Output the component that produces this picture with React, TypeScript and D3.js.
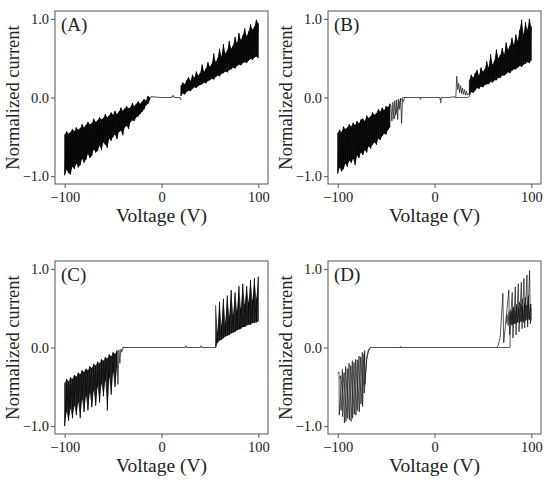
import React, { useEffect, useRef } from "react";
import * as d3 from "d3";

const panelLabels = ["(A)", "(B)", "(C)", "(D)"];
const xTicks = [-100, 0, 100];
const yTicks = [-1, 0, 1];
const xTitle = "Voltage (V)";
const yTitle = "Normalized current";

// ---- panel A ----
const aNegV = [-100, -98, -96, -94, -92, -90, -88, -86, -84, -82, -80, -78, -76, -74, -72, -70, -68, -66, -64, -62, -60, -58, -56, -54, -52, -50, -48, -46, -44, -42, -40, -38, -36, -34, -32, -30, -28, -26, -24, -22, -20, -18, -16, -14, -12];
const aNegHi = [-0.47, -0.43, -0.46, -0.44, -0.4, -0.43, -0.38, -0.41, -0.39, -0.34, -0.38, -0.35, -0.31, -0.34, -0.33, -0.27, -0.31, -0.29, -0.25, -0.28, -0.26, -0.21, -0.25, -0.23, -0.19, -0.22, -0.17, -0.21, -0.18, -0.13, -0.17, -0.14, -0.11, -0.14, -0.12, -0.07, -0.11, -0.08, -0.05, -0.08, -0.05, -0.02, -0.04, 0.02, 0.0];
const aNegLo = [-0.99, -0.92, -0.96, -0.98, -0.88, -0.91, -0.84, -0.89, -0.86, -0.78, -0.83, -0.79, -0.72, -0.77, -0.74, -0.66, -0.7, -0.68, -0.61, -0.67, -0.57, -0.6, -0.64, -0.52, -0.55, -0.5, -0.47, -0.53, -0.44, -0.42, -0.48, -0.38, -0.36, -0.4, -0.31, -0.29, -0.3, -0.25, -0.24, -0.21, -0.18, -0.15, -0.1, -0.08, -0.03];
const aFlatV = [-12, -10, 0, 10, 11, 12, 13, 14, 19, 20];
const aFlatI = [0, 0.01, 0, 0, 0.01, 0.025, 0.005, 0, 0, -0.03];
const aPosV = [20, 22, 24, 26, 28, 30, 32, 34, 36, 38, 40, 42, 44, 46, 48, 50, 52, 54, 56, 58, 60, 62, 64, 66, 68, 70, 72, 74, 76, 78, 80, 82, 84, 86, 88, 90, 92, 94, 96, 98, 100];
const aPosHi = [0.15, 0.19, 0.17, 0.22, 0.26, 0.21, 0.29, 0.25, 0.33, 0.28, 0.31, 0.42, 0.33, 0.37, 0.45, 0.39, 0.43, 0.56, 0.45, 0.5, 0.62, 0.52, 0.68, 0.56, 0.6, 0.72, 0.62, 0.66, 0.77, 0.69, 0.82, 0.73, 0.79, 0.88, 0.78, 0.84, 0.93, 0.86, 0.9, 0.99, 0.94];
const aPosLo = [0.02, 0.05, 0.04, 0.07, 0.09, 0.08, 0.11, 0.13, 0.12, 0.15, 0.16, 0.17, 0.19, 0.18, 0.21, 0.22, 0.24, 0.23, 0.26, 0.28, 0.27, 0.3, 0.31, 0.33, 0.32, 0.35, 0.36, 0.38, 0.37, 0.4, 0.42, 0.41, 0.44, 0.45, 0.44, 0.47, 0.49, 0.48, 0.51, 0.52, 0.5];

// ---- panel B ----
const bNegV = [-100, -98, -96, -94, -92, -90, -88, -86, -84, -82, -80, -78, -76, -74, -72, -70, -68, -66, -64, -62, -60, -58, -56, -54, -52, -50, -48, -46];
const bNegHi = [-0.45, -0.41, -0.44, -0.37, -0.4, -0.38, -0.34, -0.37, -0.32, -0.35, -0.3, -0.33, -0.28, -0.27, -0.3, -0.23, -0.26, -0.24, -0.19, -0.22, -0.2, -0.15, -0.18, -0.13, -0.16, -0.11, -0.12, -0.08];
const bNegLo = [-0.97, -0.89, -0.94, -0.91, -0.84, -0.88, -0.8, -0.83, -0.78, -0.86, -0.74, -0.77, -0.7, -0.73, -0.67, -0.7, -0.62, -0.65, -0.6, -0.57, -0.6, -0.52, -0.54, -0.49, -0.46, -0.47, -0.41, -0.38];
const bKneeNegV = [-46, -45, -44, -43, -42, -41, -40, -39, -38, -37, -36, -35, -34, -33, -32, -31, -30];
const bKneeNegI = [-0.08, -0.1, -0.3, -0.06, -0.27, -0.04, -0.22, -0.03, -0.28, -0.02, -0.15, -0.01, -0.33, -0.02, -0.05, 0.0, 0.0];
const bKneeNeg2V = [-42, -40, -38, -36, -34, -33, -32];
const bKneeNeg2I = [-0.28, -0.2, -0.12, -0.06, -0.02, 0, 0];
const bFlatV = [-32, -20, -15, -14.5, -14, 0, 5, 6, 6.5, 7, 15, 20, 22];
const bFlatI = [0, 0, 0, -0.02, 0, 0, 0, -0.02, -0.07, 0, 0, 0.01, 0.0];
const bKneePosV = [22, 23, 24, 25, 26, 27, 28, 29, 30, 31, 32, 33, 34, 35, 36];
const bKneePosI = [0.0, 0.27, 0.1, 0.18, 0.06, 0.15, 0.05, 0.12, 0.04, 0.1, 0.03, 0.08, 0.03, 0.05, 0.03];
const bKneePos2V = [22, 30, 34, 36, 37, 38];
const bKneePos2I = [0, 0, 0, 0.01, 0.05, 0.1];
const bPosV = [36, 38, 40, 42, 44, 46, 48, 50, 52, 54, 56, 58, 60, 62, 64, 66, 68, 70, 72, 74, 76, 78, 80, 82, 84, 86, 88, 90, 92, 94, 96, 98, 100];
const bPosHi = [0.22, 0.29, 0.25, 0.31, 0.35, 0.28, 0.38, 0.33, 0.36, 0.46, 0.38, 0.55, 0.42, 0.47, 0.61, 0.5, 0.54, 0.63, 0.55, 0.7, 0.61, 0.66, 0.76, 0.67, 0.8, 0.72, 0.86, 0.99, 0.8, 0.96, 0.86, 1.0, 0.9];
const bPosLo = [0.04, 0.07, 0.06, 0.09, 0.12, 0.11, 0.14, 0.13, 0.16, 0.17, 0.17, 0.2, 0.19, 0.22, 0.22, 0.25, 0.25, 0.28, 0.28, 0.3, 0.32, 0.31, 0.34, 0.36, 0.36, 0.38, 0.4, 0.39, 0.42, 0.43, 0.45, 0.44, 0.47];

// ---- panel C ----
const cNegV = [-100, -98, -96, -94, -92, -90, -88, -86, -84, -82, -80, -78, -76, -74, -72, -70, -68, -66, -64, -62, -60, -58, -56, -54, -52, -50, -48, -46];
const cNegHi = [-0.45, -0.4, -0.43, -0.38, -0.4, -0.35, -0.37, -0.32, -0.34, -0.29, -0.31, -0.27, -0.29, -0.24, -0.26, -0.21, -0.23, -0.18, -0.2, -0.15, -0.17, -0.12, -0.14, -0.09, -0.11, -0.06, -0.08, -0.04];
const cNegLo = [-1.0, -0.82, -0.93, -0.78, -0.9, -0.74, -0.86, -0.7, -0.9, -0.66, -0.82, -0.62, -0.8, -0.58, -0.76, -0.55, -0.74, -0.5, -0.7, -0.46, -0.62, -0.42, -0.8, -0.38, -0.6, -0.32, -0.5, -0.26];
const cKneeV = [-46, -45, -44, -43, -42, -41, -40, -38];
const cKneeI = [-0.04, -0.47, -0.03, -0.2, -0.02, -0.06, 0.0, 0.0];
const cFlatV = [-40, -20, 0, 20, 24, 25, 26, 35, 40, 41, 42, 50, 55, 55.8];
const cFlatI = [0, 0, 0, 0, 0, 0.02, 0, 0, 0, 0.02, 0, 0, 0, 0];
const cPosV = [56, 58, 60, 62, 64, 66, 68, 70, 72, 74, 76, 78, 80, 82, 84, 86, 88, 90, 92, 94, 96, 98, 100];
const cPosHi = [0.54, 0.2, 0.58, 0.28, 0.62, 0.32, 0.66, 0.4, 0.73, 0.42, 0.7, 0.47, 0.78, 0.5, 0.81, 0.55, 0.78, 0.58, 0.86, 0.6, 0.88, 0.62, 0.9];
const cPosLo = [0.0, 0.06, 0.09, 0.1, 0.12, 0.14, 0.15, 0.16, 0.18, 0.19, 0.2, 0.22, 0.23, 0.24, 0.26, 0.26, 0.28, 0.29, 0.29, 0.31, 0.31, 0.32, 0.33];

// ---- panel D ----
const dNeg1V = [-100, -98.6, -98.4, -95.1, -94.9, -91.7, -91.5, -88.2, -88.0, -84.8, -84.6, -81.4, -81.2, -77.9, -77.7, -74.5, -74.3, -72.1, -71.9, -70, -68, -66];
const dNeg1I = [-0.33, -0.31, -0.86, -0.28, -0.88, -0.24, -0.94, -0.2, -0.92, -0.17, -0.9, -0.15, -0.86, -0.11, -0.82, -0.06, -0.75, -0.04, -0.47, -0.15, -0.04, 0];
const dNeg2V = [-98, -96.9, -96.6, -93.4, -93.1, -90, -89.7, -86.5, -86.2, -83.1, -82.8, -79.7, -79.4, -76.2, -75.9, -72.8, -72.5, -70, -68, -66];
const dNeg2I = [-0.4, -0.36, -0.8, -0.32, -0.96, -0.27, -0.9, -0.23, -0.94, -0.19, -0.85, -0.16, -0.8, -0.12, -0.72, -0.08, -0.58, -0.12, -0.02, 0];
const dFlatV = [-66, -50, -36, -35, -34, 0, 40, 64];
const dFlatI = [0, 0, 0, 0.01, 0, 0, 0, 0];
const dPos1V = [64, 66, 68, 70.6, 71.5, 76.8, 77.5, 80.3, 81, 83.5, 84.2, 86.6, 87.3, 89.7, 90.4, 92.4, 93.1, 95.5, 96.2, 98.2, 99, 100];
const dPos1I = [0, 0.03, 0.15, 0.69, 0.06, 0.73, 0.16, 0.7, 0.12, 0.77, 0.16, 0.81, 0.2, 0.83, 0.24, 0.88, 0.25, 0.92, 0.26, 0.98, 0.3, 0.5];
const dPos2V = [64, 78, 78.3, 79.5, 80, 82, 82.5, 85, 85.5, 88, 88.5, 91, 91.5, 94, 94.5, 97, 97.5, 100];
const dPos2I = [0, 0, 0.3, 0.45, 0.28, 0.52, 0.3, 0.55, 0.32, 0.58, 0.33, 0.62, 0.34, 0.64, 0.35, 0.66, 0.36, 0.55];
const dCoreV = [74, 75, 76, 77, 78, 79, 80, 81, 82, 83, 84, 85, 86, 87, 88, 89, 90, 91, 92, 93, 94, 95, 96, 97, 98, 99, 100];
const dCoreI = [0.3, 0.42, 0.28, 0.46, 0.3, 0.48, 0.29, 0.5, 0.31, 0.47, 0.3, 0.52, 0.32, 0.5, 0.31, 0.55, 0.33, 0.52, 0.32, 0.56, 0.34, 0.54, 0.33, 0.58, 0.35, 0.55, 0.34];

interface Band {
  v: number[];
  hi: number[];
  lo: number[];
}
interface Trace {
  v: number[];
  i: number[];
  color: string;
  width: number;
}
interface PanelSpec {
  label: string;
  left: number;
  top: number;
  bandOpacity: number;
  bands: Band[];
  traces: Trace[];
}

const flat = (v: number[], i: number[]): Trace => ({ v, i, color: "#555", width: 1.1 });
const wire = (v: number[], i: number[]): Trace => ({ v, i, color: "#111", width: 0.7 });

const panels: PanelSpec[] = [
  {
    label: panelLabels[0], left: 55, top: 11, bandOpacity: 0.92,
    bands: [{ v: aNegV, hi: aNegHi, lo: aNegLo }, { v: aPosV, hi: aPosHi, lo: aPosLo }],
    traces: [flat(aFlatV, aFlatI)],
  },
  {
    label: panelLabels[1], left: 328, top: 11, bandOpacity: 0.9,
    bands: [{ v: bNegV, hi: bNegHi, lo: bNegLo }, { v: bPosV, hi: bPosHi, lo: bPosLo }],
    traces: [flat(bFlatV, bFlatI), wire(bKneeNegV, bKneeNegI), wire(bKneeNeg2V, bKneeNeg2I), wire(bKneePosV, bKneePosI), wire(bKneePos2V, bKneePos2I)],
  },
  {
    label: panelLabels[2], left: 55, top: 261, bandOpacity: 0.75,
    bands: [{ v: cNegV, hi: cNegHi, lo: cNegLo }, { v: cPosV, hi: cPosHi, lo: cPosLo }],
    traces: [flat(cFlatV, cFlatI), wire(cKneeV, cKneeI)],
  },
  {
    label: panelLabels[3], left: 328, top: 261, bandOpacity: 0.5,
    bands: [],
    traces: [flat(dFlatV, dFlatI), wire(dNeg1V, dNeg1I), wire(dNeg2V, dNeg2I), wire(dPos1V, dPos1I), wire(dPos2V, dPos2I), wire(dCoreV, dCoreI)],
  },
];

const W = 213;
const H = 173;
const FONT = "'Liberation Serif', 'Times New Roman', serif";

const App = () => {
  const svgRef = useRef<SVGSVGElement | null>(null);

  useEffect(() => {
    if (!svgRef.current) return;
    const svg = d3.select(svgRef.current);
    svg.selectAll("*").remove();

    const x = d3.scaleLinear().domain([-110, 110]).range([0, W]);
    const y = d3.scaleLinear().domain([-1.1, 1.1]).range([H, 0]);

    const line = d3
      .line<[number, number]>()
      .x((d) => x(d[0]))
      .y((d) => y(d[1]));

    panels.forEach((p, idx) => {
      const g = svg.append("g").attr("transform", `translate(${p.left},${p.top})`);

      svg
        .append("clipPath")
        .attr("id", `clip${idx}`)
        .append("rect")
        .attr("width", W)
        .attr("height", H);

      const plot = g.append("g").attr("clip-path", `url(#clip${idx})`);

      // dense noisy bands
      p.bands.forEach((b) => {
        const pts = b.v.map((v, k) => ({ v, hi: b.hi[k], lo: b.lo[k] }));
        plot
          .append("path")
          .datum(pts)
          .attr(
            "d",
            d3
              .area<{ v: number; hi: number; lo: number }>()
              .x((d) => x(d.v))
              .y0((d) => y(d.lo))
              .y1((d) => y(d.hi))
          )
          .attr("fill", "#000")
          .attr("fill-opacity", p.bandOpacity);

        const zig: [number, number][] = pts.flatMap((d) => [
          [d.v, d.hi] as [number, number],
          [d.v, d.lo] as [number, number],
        ]);
        plot
          .append("path")
          .datum(zig)
          .attr("d", line)
          .attr("fill", "none")
          .attr("stroke", "#000")
          .attr("stroke-width", 0.7);
      });

      p.traces.forEach((t) => {
        const pts: [number, number][] = t.v.map((v, k) => [v, t.i[k]]);
        plot
          .append("path")
          .datum(pts)
          .attr("d", line)
          .attr("fill", "none")
          .attr("stroke", t.color)
          .attr("stroke-width", t.width)
          .attr("stroke-linejoin", "round");
      });

      // frame
      g.append("rect")
        .attr("width", W)
        .attr("height", H)
        .attr("fill", "none")
        .attr("stroke", "#555")
        .attr("stroke-width", 1);

      const yAxis = g
        .append("g")
        .call(
          d3
            .axisLeft(y)
            .tickValues(yTicks)
            .tickSize(4)
            .tickPadding(2)
            .tickFormat(d3.format(".1f") as any)
        );
      const xAxis = g
        .append("g")
        .attr("transform", `translate(0,${H})`)
        .call(
          d3
            .axisBottom(x)
            .tickValues(xTicks)
            .tickSize(4)
            .tickPadding(4)
            .tickFormat(d3.format("d") as any)
        );
      [yAxis, xAxis].forEach((a) => {
        a.select(".domain").remove();
        a.selectAll("line").attr("stroke", "#555");
        a.selectAll("text")
          .attr("fill", "#222")
          .style("font-family", FONT)
          .style("font-size", "14.5px");
      });

      g.append("text")
        .attr("x", x(0))
        .attr("y", H + 38)
        .attr("text-anchor", "middle")
        .style("font-family", FONT)
        .style("font-size", "19.5px")
        .attr("fill", "#222")
        .text(xTitle);

      g.append("text")
        .attr("transform", `translate(-36,${H / 2}) rotate(-90)`)
        .attr("text-anchor", "middle")
        .style("font-family", FONT)
        .style("font-size", "18.5px")
        .attr("fill", "#222")
        .text(yTitle);

      g.append("text")
        .attr("x", 6)
        .attr("y", 20)
        .style("font-family", FONT)
        .style("font-size", "19px")
        .attr("fill", "#222")
        .text(p.label);
    });
  }, []);

  return (
    <svg
      ref={svgRef}
      width={550}
      height={481}
      style={{ position: "absolute", left: 0, top: 0, background: "#fff" }}
    />
  );
};

export default App;
